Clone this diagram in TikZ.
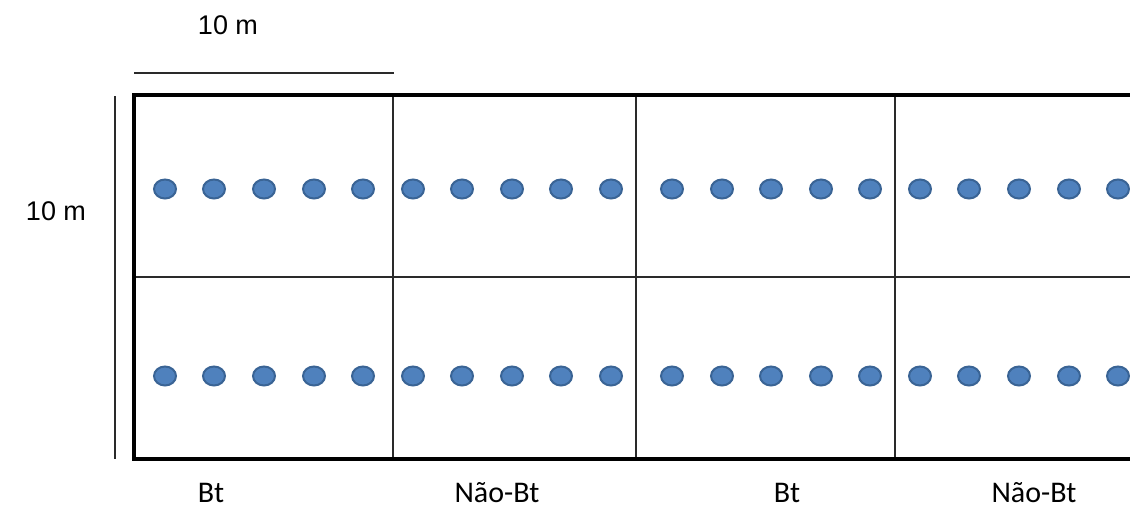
\documentclass[tikz,border=0pt]{standalone}
\usepackage{fontspec}
\usetikzlibrary{shapes.geometric}
\newfontfamily\arialf{Liberation Sans}
\newfontfamily\calf{Carlito}
\definecolor{dotfill}{HTML}{4F81BD}
\definecolor{dotline}{HTML}{3A6495}
\definecolor{gridline}{HTML}{2A2A2A}
\tikzset{
  plant/.style={ellipse, draw=dotline, fill=dotfill, line width=2pt, minimum width=22pt, minimum height=19pt, inner sep=0pt},
  outerline/.style={line width=3.6pt, black},
  innerline/.style={line width=2.8pt, gridline},
  scaleline/.style={line width=2pt, gridline},
  meas/.style={font=\arialf\fontsize{27}{30}\selectfont, inner sep=0pt},
  trt/.style={font=\calf\fontsize{30}{32}\selectfont, inner sep=0pt, anchor=base}
}
\begin{document}
\begin{tikzpicture}[x=1pt,y=-1pt]
\useasboundingbox (0,0) rectangle (1130,509);
% scale bars
\draw[scaleline] (134,73) -- (394,73);
\draw[line width=2.6pt, gridline] (115,96) -- (115,459);
\node[meas] (top10) at (228,25) {10 m};
\node[meas] (left10) at (56,211) {10 m};
% grid
\draw[innerline] (134,277) -- (1130,277);
\foreach \x in {393,636,895} \draw[innerline] (\x,95) -- (\x,459);
\draw[outerline] (1130,95) -- (134,95) -- (134,459) -- (1130,459);
% plants
\foreach \r/\y in {1/189,2/376}{
  \foreach \i/\x in {1/165,2/214,3/264,4/314,5/363,6/413,7/462,8/512,9/561,10/611,11/672,12/722,13/771,14/821,15/870,16/920,17/969,18/1019,19/1069,20/1118}{
    \node[plant] (d\r-\i) at (\x,\y) {};
  }
}
% labels
\node[trt] (l1) at (211,502) {Bt};
\node[trt] (l2) at (497,502) {Não-Bt};
\node[trt] (l3) at (787,502) {Bt};
\node[trt] (l4) at (1034,502) {Não-Bt};
\end{tikzpicture}
\end{document}
